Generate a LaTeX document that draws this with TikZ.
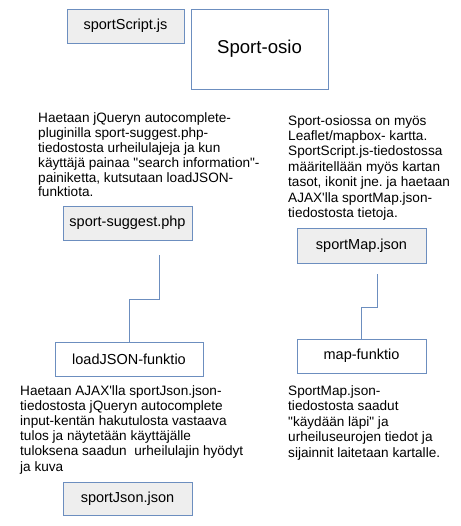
\documentclass[tikz,border=0pt]{standalone}
\usepackage{fontspec}
\setmainfont{Liberation Sans}
\definecolor{edge}{HTML}{6C8EBF}
\definecolor{boxgray}{HTML}{EEEEEE}
\tikzset{
  box/.style={draw=edge, line width=0.9pt, inner sep=0pt, font=\fontsize{14.5}{17}\selectfont},
  graybox/.style={box, fill=boxgray},
  whitebox/.style={box, fill=white},
  note/.style={anchor=base west, inner sep=0pt, align=left},
  conn/.style={draw=edge, line width=0.9pt}
}
\begin{document}
\frenchspacing
\begin{tikzpicture}[x=1pt,y=-1pt]
\useasboundingbox[fill=white] (0,0) rectangle (460,526);
\node[graybox, minimum width=117pt, minimum height=34pt] (ss) at (125.5,26) {sportScript.js};
\node[whitebox, minimum width=137pt, minimum height=80pt, font=\fontsize{18.6}{22}\selectfont] (so) at (259.5,49) {Sport-osio};
\node[note, font=\fontsize{13.6}{14.9}\selectfont\frenchspacing] (t1) at (38,197) {Haetaan jQueryn autocomplete-\\pluginilla sport-suggest.php-\\tiedostosta urheilulajeja ja kun\\käyttäjä painaa \textquotedbl search information\textquotedbl -\\painiketta, kutsutaan loadJSON-\\funktiota.};
\node[graybox, minimum width=129pt, minimum height=34pt] (sug) at (127.5,223) {sport-suggest.php};
\node[note, font=\fontsize{13.6}{15.4}\selectfont\frenchspacing] (t2) at (288,217.5) {Sport-osiossa on myös\\Leaflet/mapbox- kartta.\\SportScript.js-tiedostossa\\määritellään myös kartan\\tasot, ikonit jne. ja haetaan\\AJAX\textquotesingle lla sportMap.json-\\tiedostosta tietoja.};
\node[graybox, minimum width=129pt, minimum height=35pt] (smj) at (361.5,245.5) {sportMap.json};
\node[whitebox, minimum width=148pt, minimum height=34pt] (lj) at (129,359) {loadJSON-funktio};
\node[whitebox, minimum width=129pt, minimum height=34pt] (mf) at (361.5,356) {map-funktio};
\node[note, font=\fontsize{13.6}{15.2}\selectfont\frenchspacing] (t3) at (20,471) {Haetaan AJAX\textquotesingle lla sportJson.json-\\tiedostosta jQueryn autocomplete\\input-kentän hakutulosta vastaava\\tulos ja näytetään käyttäjälle\\tuloksena saadun\ \ urheilulajin hyödyt\\ja kuva};
\node[note, font=\fontsize{13.6}{15.6}\selectfont\frenchspacing] (t4) at (288,457.5) {SportMap.json-\\tiedostosta saadut\\\textquotedbl käydään läpi\textquotedbl\ ja\\urheiluseurojen tiedot ja\\sijainnit laitetaan kartalle.};
\node[graybox, minimum width=129pt, minimum height=33pt] (sj) at (127.5,498.5) {sportJson.json};
\coordinate (c1) at (159,255);
\coordinate (c2) at (377,274);
\draw[conn] (c1) -- (159,299) -| (lj.north);
\draw[conn] (c2) -- (377,307) -| (mf.north);
\end{tikzpicture}
\end{document}
